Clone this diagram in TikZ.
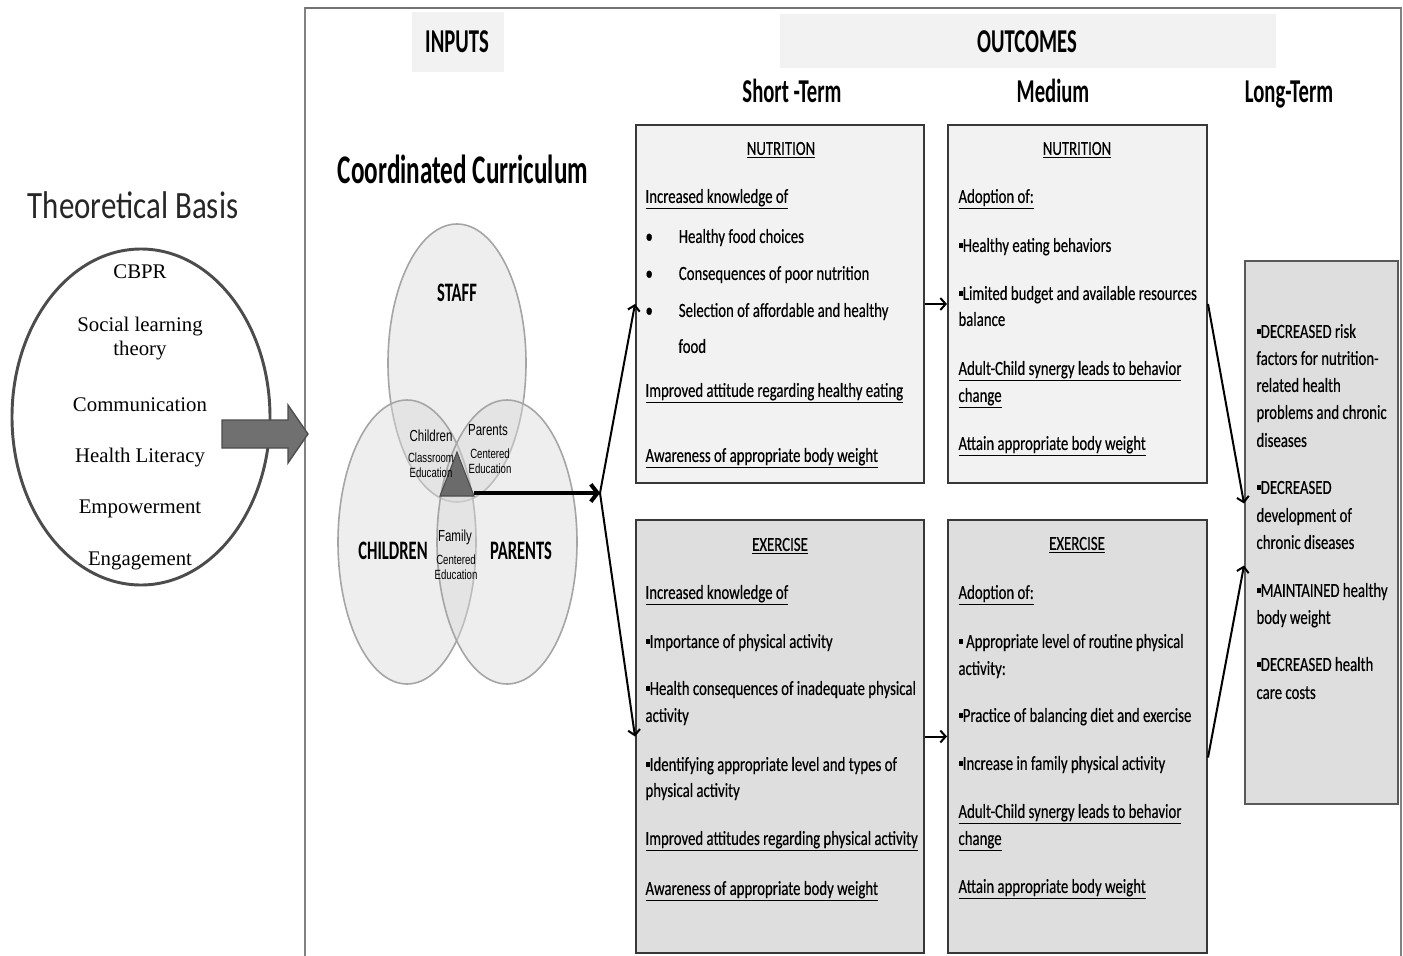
\documentclass[tikz,border=0pt]{standalone}
\usepackage{fontspec}
\setmainfont{Carlito}[FakeStretch=0.74,FakeBold=0.4]
\newfontfamily\headfont{Carlito}[FakeStretch=0.62]
\newfontfamily\titlefont{Carlito}[FakeStretch=0.8]
\newfontfamily\theoryfont{Liberation Serif}
\newfontfamily\vennfont{Liberation Sans}[FakeStretch=0.72]
\usetikzlibrary{arrows.meta,calc,fit}

\definecolor{lightbox}{RGB}{242,242,242}
\definecolor{darkbox}{RGB}{222,222,222}
\definecolor{framegray}{RGB}{130,130,130}
\definecolor{vennline}{RGB}{165,165,165}
\definecolor{arrowgray}{RGB}{112,112,112}
\newcommand{\sqbul}{\rule[0.45ex]{3.2pt}{3.2pt}}
\newcommand{\rdbul}{\makebox[25pt][l]{\textbullet}}

\tikzset{every picture/.style={line width=0.75pt},
  boxtext/.style={anchor=west, inner sep=0.75pt, text height=1.5ex, text depth=0.25ex, yshift=-2.2pt, font=\fontsize{15}{18}\selectfont},
  boxtitle/.style={boxtext, anchor=center},
  colhead/.style={inner sep=0.75pt, text height=1.6ex, text depth=0.3ex, yshift=-4.5pt, font=\headfont\bfseries\fontsize{25}{29}\selectfont},
  theory/.style={inner sep=0.75pt, font=\theoryfont\fontsize{15.6}{18}\selectfont},
  vennbig/.style={inner sep=0.5pt, font=\headfont\bfseries\fontsize{20}{24}\selectfont},
  vennmid/.style={inner sep=0.5pt, font=\vennfont\fontsize{12}{13}\selectfont},
  vennsmall/.style={inner sep=0.5pt, font=\vennfont\fontsize{10}{11}\selectfont},
  vennset/.style={draw=vennline, line width=1.2pt, fill=black!15, fill opacity=0.45},
  outbox/.style={draw=black!78, line width=1.5pt, inner sep=0pt},
  flow/.style={line width=1.5pt, -{Straight Barb[length=4pt,width=9pt]}},
}

\begin{document}
\begin{tikzpicture}[x=0.75pt,y=0.75pt,yscale=-1,xscale=1]
\useasboundingbox (0,0) rectangle (1403,956);

%Frame
\draw [framegray, line width=1.2pt] (305,960) -- (305,8) -- (1401,8) -- (1401,960) ;
\draw [black!55, line width=2pt] (305,8) -- (1401,8) ;
%Header boxes
\fill [lightbox] (412,12) rectangle (504,72) ;
\fill [lightbox] (780,14) rectangle (1276,68) ;
\node [colhead] (inputs) at (457,42) {INPUTS};
\node [colhead] (outcomes) at (1027,42) {OUTCOMES};
\node [colhead] (short) at (792,92) {Short -Term};
\node [colhead] (medium) at (1053,92) {Medium};
\node [colhead] (long) at (1289,92) {Long-Term};
\node [colhead, font=\headfont\bfseries\fontsize{30.5}{35}\selectfont] (curric) at (463,173) {Coordinated Curriculum};

%Theoretical basis
\node [inner sep=0.75pt, font=\titlefont\fontsize{29}{33}\selectfont, text=black!85] (basis) at (133,205) {Theoretical Basis};
\draw [black!70, line width=2.2pt] (141,417) ellipse [x radius=129, y radius=168] ;
\node [theory] (cbpr) at (140,272) {CBPR};
\node [theory, align=center] (slt) at (140,339) {Social learning\\theory};
\node [theory] (comm) at (140,405) {Communication};
\node [theory] (hlit) at (140,458) {Health Literacy};
\node [theory] (empw) at (140,509) {Empowerment};
\node [theory] (enga) at (140,561) {Engagement};
%Block arrow
\draw [fill=arrowgray, draw=black!70, line width=1pt] (222,420) -- (288,420) -- (288,405) -- (308,434) -- (288,463) -- (288,448) -- (222,448) -- cycle ;

%Venn diagram
\draw [vennset] (457,363) ellipse [x radius=69, y radius=139] ;
\draw [vennset] (407,542) ellipse [x radius=69, y radius=142] ;
\draw [vennset] (507,542) ellipse [x radius=70, y radius=142] ;
\draw [fill=black!58, draw=black!70, line width=0.8pt] (457,452) -- (474,496) -- (440,496) -- cycle ;
\node [vennbig] (staff) at (457,293) {STAFF};
\node [vennbig] (children) at (393,551) {CHILDREN};
\node [vennbig] (parents) at (521,551) {PARENTS};
\node [vennmid] (chil) at (431,436) {Children};
\node [vennsmall, align=center] (chil2) at (431,465) {Classroom\\Education};
\node [vennmid] (par) at (488,430) {Parents};
\node [vennsmall, align=center] (par2) at (490,461) {Centered\\Education};
\node [vennmid] (fam) at (455,537) {Family};
\node [vennsmall, align=center] (fam2) at (456,567) {Centered\\Education};
\coordinate (tri) at (474,493);
\coordinate (split) at (600,493);
\draw [line width=3pt, -{Straight Barb[length=5pt,width=13pt]}] (tri) -- (split) ;

%Outcome boxes
\node [outbox, fill=lightbox, fit={(636,125) (924,483)}] (sn) {};
\node [outbox, fill=lightbox, fit={(948,125) (1207,483)}] (mn) {};
\node [outbox, fill=darkbox, fit={(636,520) (924,953)}] (se) {};
\node [outbox, fill=darkbox, fit={(948,520) (1207,953)}] (me) {};
\node [outbox, fill=darkbox, draw=black!65, fit={(1245,261) (1398,804)}] (lt) {};

%Connectors
\draw [flow] (split) -- (sn.west) ;
\draw [flow] (split) -- (se.west) ;
\draw [flow] (sn.east) -- (mn.west) ;
\draw [flow] (se.east) -- (me.west) ;
\draw [flow] (mn.east) -- ($(lt.west)+(0,-29)$) ;
\draw [flow] ($(me.east)+(0,21)$) -- ($(lt.west)+(0,33)$) ;

% Text Node: short-term nutrition
\node [boxtitle] (snT) at (781,148) {\underline{NUTRITION}};
\node [boxtext] (sn1) at (644,196) {\underline{Increased knowledge of}};
\node [boxtext] (sn2) at (644,236) {\rdbul Healthy food choices};
\node [boxtext] (sn3) at (644,273) {\rdbul Consequences of poor nutrition};
\node [boxtext] (sn4) at (644,310) {\rdbul Selection of affordable and healthy};
\node [boxtext] (sn5) at (677,346) {food};
\node [boxtext] (sn6) at (644,390) {\underline{Improved attitude regarding healthy eating}};
\node [boxtext] (sn7) at (644,455) {\underline{Awareness of appropriate body weight}};
% Text Node: medium nutrition
\node [boxtitle] (mnT) at (1077,148) {\underline{NUTRITION}};
\node [boxtext] (mn1) at (957,196) {\underline{Adoption of:}};
\node [boxtext] (mn2) at (957,245) {\sqbul Healthy eating behaviors};
\node [boxtext] (mn3) at (957,293) {\sqbul Limited budget and available resources};
\node [boxtext] (mn4) at (957,319) {balance};
\node [boxtext] (mn5) at (957,368) {\underline{Adult-Child synergy leads to behavior}};
\node [boxtext] (mn6) at (957,395) {\underline{change}};
\node [boxtext] (mn7) at (957,443) {\underline{Attain appropriate body weight}};
% Text Node: short-term exercise
\node [boxtitle] (seT) at (780,544) {\underline{EXERCISE}};
\node [boxtext] (se1) at (644,592) {\underline{Increased knowledge of}};
\node [boxtext] (se2) at (644,641) {\sqbul Importance of physical activity};
\node [boxtext] (se3) at (644,688) {\sqbul Health consequences of inadequate physical};
\node [boxtext] (se4) at (644,715) {activity};
\node [boxtext] (se5) at (644,764) {\sqbul Identifying appropriate level and types of};
\node [boxtext] (se6) at (644,790) {physical activity};
\node [boxtext] (se7) at (644,838) {\underline{Improved attitudes regarding physical activity}};
\node [boxtext] (se8) at (644,888) {\underline{Awareness of appropriate body weight}};
% Text Node: medium exercise
\node [boxtitle] (meT) at (1077,543) {\underline{EXERCISE}};
\node [boxtext] (me1) at (957,592) {\underline{Adoption of:}};
\node [boxtext] (me2) at (957,641) {\sqbul\ Appropriate level of routine physical};
\node [boxtext] (me3) at (957,668) {activity:};
\node [boxtext] (me4) at (957,715) {\sqbul Practice of balancing diet and exercise};
\node [boxtext] (me5) at (957,763) {\sqbul Increase in family physical activity};
\node [boxtext] (me6) at (957,811) {\underline{Adult-Child synergy leads to behavior}};
\node [boxtext] (me7) at (957,838) {\underline{change}};
\node [boxtext] (me8) at (957,886) {\underline{Attain appropriate body weight}};
% Text Node: long-term
\node [boxtext] (lt1) at (1255,331) {\sqbul DECREASED risk};
\node [boxtext] (lt2) at (1255,358) {factors for nutrition-};
\node [boxtext] (lt3) at (1255,385) {related health};
\node [boxtext] (lt4) at (1255,412) {problems and chronic};
\node [boxtext] (lt5) at (1255,440) {diseases};
\node [boxtext] (lt6) at (1255,487) {\sqbul DECREASED};
\node [boxtext] (lt7) at (1255,515) {development of};
\node [boxtext] (lt8) at (1255,542) {chronic diseases};
\node [boxtext] (lt9) at (1255,590) {\sqbul MAINTAINED healthy};
\node [boxtext] (lt10) at (1255,617) {body weight};
\node [boxtext] (lt11) at (1255,664) {\sqbul DECREASED health};
\node [boxtext] (lt12) at (1255,692) {care costs};

\end{tikzpicture}
\end{document}
